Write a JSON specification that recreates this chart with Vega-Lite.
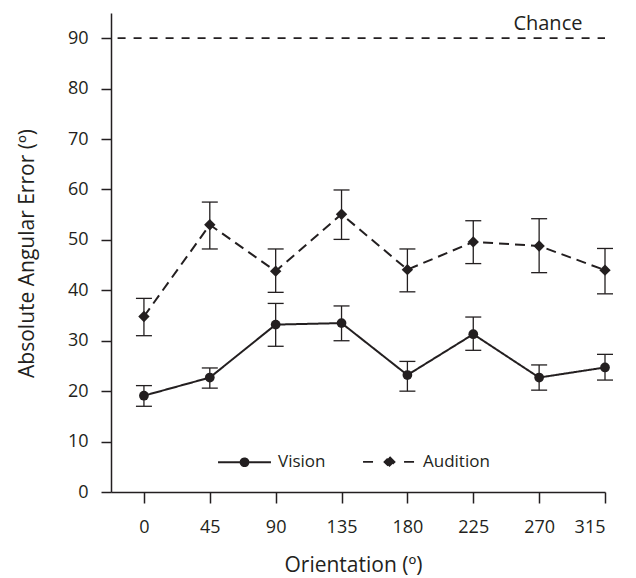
{
  "$schema": "https://vega.github.io/schema/vega-lite/v6.json",
  "width": 494,
  "height": 479,
  "autosize": "none",
  "padding": {"left": 111, "top": 13, "right": 31, "bottom": 86},
  "background": "white",
  "config": {
    "view": {"stroke": null},
    "font": "Open Sans",
    "axis": {
      "labelFont": "Open Sans", "labelFontSize": 18, "labelColor": "#231f20",
      "titleFont": "Open Sans", "titleFontSize": 21, "titleColor": "#231f20", "titleFontWeight": "normal",
      "domainColor": "#231f20", "domainWidth": 1.5, "tickColor": "#231f20", "tickWidth": 1.5,
      "grid": false
    },
    "legend": {"labelFont": "Open Sans", "labelFontSize": 17, "labelColor": "#231f20"}
  },
  "data": {
    "values": [
      {"orientation": 0, "condition": "Vision", "mean": 19.1, "lo": 17.0, "hi": 21.1},
      {"orientation": 45, "condition": "Vision", "mean": 22.7, "lo": 20.6, "hi": 24.6},
      {"orientation": 90, "condition": "Vision", "mean": 33.2, "lo": 28.9, "hi": 37.4},
      {"orientation": 135, "condition": "Vision", "mean": 33.5, "lo": 30.0, "hi": 36.9},
      {"orientation": 180, "condition": "Vision", "mean": 23.2, "lo": 20.0, "hi": 25.9},
      {"orientation": 225, "condition": "Vision", "mean": 31.3, "lo": 28.1, "hi": 34.7},
      {"orientation": 270, "condition": "Vision", "mean": 22.7, "lo": 20.2, "hi": 25.2},
      {"orientation": 315, "condition": "Vision", "mean": 24.7, "lo": 22.2, "hi": 27.3},
      {"orientation": 0, "condition": "Audition", "mean": 34.8, "lo": 31.0, "hi": 38.4},
      {"orientation": 45, "condition": "Audition", "mean": 53.0, "lo": 48.2, "hi": 57.5},
      {"orientation": 90, "condition": "Audition", "mean": 43.8, "lo": 39.6, "hi": 48.2},
      {"orientation": 135, "condition": "Audition", "mean": 55.1, "lo": 50.1, "hi": 59.9},
      {"orientation": 180, "condition": "Audition", "mean": 44.1, "lo": 39.7, "hi": 48.2},
      {"orientation": 225, "condition": "Audition", "mean": 49.6, "lo": 45.3, "hi": 53.8},
      {"orientation": 270, "condition": "Audition", "mean": 48.8, "lo": 43.5, "hi": 54.2},
      {"orientation": 315, "condition": "Audition", "mean": 44.0, "lo": 39.3, "hi": 48.3}
    ]
  },
  "layer": [
    {
      "data": {"values": [{"label": "Chance", "level": 90}]},
      "mark": {"type": "rule", "strokeDash": [8, 8], "strokeWidth": 1.7, "color": "#231f20"},
      "encoding": {
        "x": {"datum": -18, "type": "quantitative", "title": "Orientation (º)"},
        "x2": {"datum": 315},
        "y": {"field": "level", "type": "quantitative", "title": "Absolute Angular Error (º)"}
      }
    },
    {
      "data": {"values": [{"label": "Chance", "level": 90}]},
      "mark": {"type": "text", "font": "Open Sans", "fontSize": 20, "color": "#231f20", "align": "center", "baseline": "alphabetic", "dy": -8},
      "encoding": {
        "x": {"datum": 276, "type": "quantitative", "title": "Orientation (º)"},
        "y": {"field": "level", "type": "quantitative", "title": "Absolute Angular Error (º)"},
        "text": {"field": "label"}
      }
    },
    {
      "mark": {"type": "rule", "strokeWidth": 1.3, "color": "#231f20"},
      "encoding": {
        "x": {
          "field": "orientation", "type": "quantitative", "title": "Orientation (º)",
          "scale": {"domain": [-22.5, 315], "nice": false, "zero": false},
          "axis": {
            "values": [0, 45, 90, 135, 180, 225, 270, 315],
            "tickSize": 11, "labelPadding": 15, "titleY": 79, "titleBaseline": "alphabetic", "titleX": 242, "titleAlign": "center"
          }
        },
        "y": {"field": "lo", "type": "quantitative", "title": "Absolute Angular Error (º)"},
        "y2": {"field": "hi"}
      }
    },
    {
      "mark": {"type": "tick", "orient": "horizontal", "size": 16, "thickness": 1.3, "color": "#231f20", "opacity": 1},
      "encoding": {
        "x": {"field": "orientation", "type": "quantitative", "title": "Orientation (º)"},
        "y": {"field": "lo", "type": "quantitative", "title": "Absolute Angular Error (º)"}
      }
    },
    {
      "mark": {"type": "tick", "orient": "horizontal", "size": 16, "thickness": 1.3, "color": "#231f20", "opacity": 1},
      "encoding": {
        "x": {"field": "orientation", "type": "quantitative", "title": "Orientation (º)"},
        "y": {"field": "hi", "type": "quantitative", "title": "Absolute Angular Error (º)"}
      }
    },
    {
      "mark": {"type": "line", "strokeWidth": 2, "color": "#231f20"},
      "encoding": {
        "x": {"field": "orientation", "type": "quantitative", "title": "Orientation (º)"},
        "y": {"field": "mean", "type": "quantitative", "title": "Absolute Angular Error (º)"},
        "detail": {"field": "condition"},
        "strokeDash": {
          "field": "condition", "type": "nominal",
          "scale": {"domain": ["Vision", "Audition"], "range": [[1, 0], [10, 6]]},
          "legend": {
            "title": null, "orient": "none", "direction": "horizontal",
            "legendX": 106, "legendY": 421, "padding": 0,
            "symbolSize": 2800, "labelOffset": 6, "columnPadding": 33,
            "symbolStrokeWidth": 1.8,
            "encoding": {
              "symbols": {
                "shape": {"value": {"expr": "datum.value === 'Vision' ? 'M-1,0L1,0M0.15,0A0.15,0.15,0,1,1,-0.15,0A0.15,0.15,0,1,1,0.15,0Z' : 'M-1,0L-0.53,0M0.55,0L1,0M0,-0.19L0.19,0L0,0.19L-0.19,0Z'"}},
                "size": {"value": 2800},
                "fill": {"value": "#231f20"},
                "stroke": {"value": "#231f20"},
                "strokeWidth": {"value": 1.8},
                "strokeDash": {"value": [1, 0]},
                "opacity": {"value": 1}
              }
            }
          }
        }
      }
    },
    {
      "transform": [{"filter": "datum.condition === 'Vision'"}],
      "mark": {"type": "point", "shape": "circle", "size": 95, "filled": true, "opacity": 1, "color": "#231f20"},
      "encoding": {
        "x": {"field": "orientation", "type": "quantitative", "title": "Orientation (º)"},
        "y": {"field": "mean", "type": "quantitative", "title": "Absolute Angular Error (º)"}
      }
    },
    {
      "transform": [{"filter": "datum.condition === 'Audition'"}],
      "mark": {"type": "point", "shape": "diamond", "size": 130, "filled": true, "opacity": 1, "color": "#231f20"},
      "encoding": {
        "x": {"field": "orientation", "type": "quantitative", "title": "Orientation (º)"},
        "y": {
          "field": "mean", "type": "quantitative", "title": "Absolute Angular Error (º)",
          "scale": {"domain": [0, 95], "nice": false, "zero": true},
          "axis": {
            "values": [0, 10, 20, 30, 40, 50, 60, 70, 80, 90],
            "tickSize": 10, "labelPadding": 13,
            "titleX": -78, "titleY": 240, "titleBaseline": "alphabetic", "titleAlign": "center", "titleAngle": -90
          }
        }
      }
    }
  ]
}
